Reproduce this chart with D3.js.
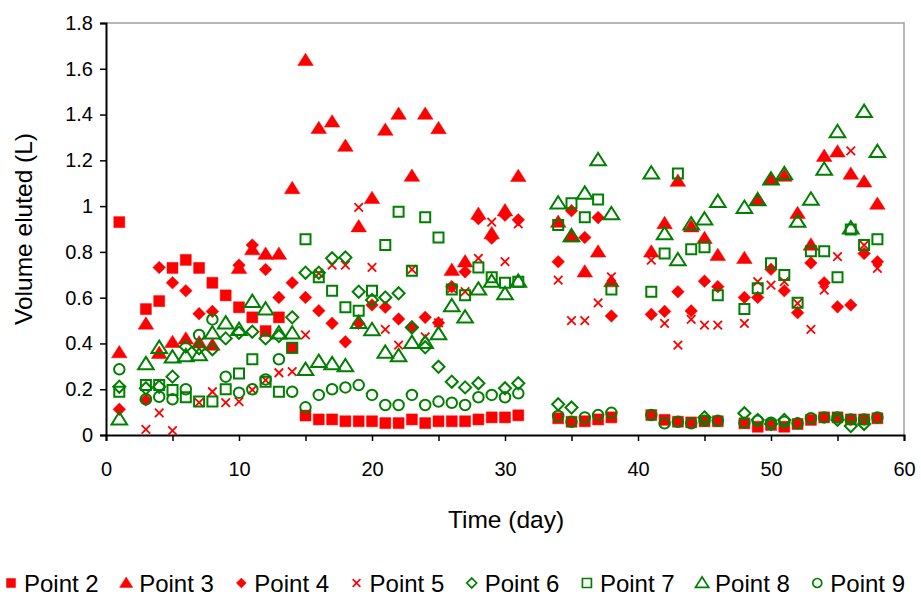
<!DOCTYPE html>
<html>
<head>
<meta charset="utf-8">
<script src="https://cdn.jsdelivr.net/npm/d3@7/dist/d3.min.js"></script>
<style>
  html, body { margin: 0; padding: 0; background: #fff; }
  svg { display: block; font-family: "Liberation Sans", Arial, sans-serif; }
</style>
</head>
<body>
<svg id="chart" width="921" height="601"></svg>
<script>
// Sampling days (days without measurements are skipped)
const days = [1,3,4,5,6,7,8,9,10,11,12,13,14,15,16,17,18,19,20,21,22,23,24,25,26,27,28,29,30,31,
              34,35,36,37,38,41,42,43,44,45,46,48,49,50,51,52,53,54,55,56,57,58];

// Eluted volume (L) per sampling point, aligned with `days` (null = no value)
const point2 = [0.93,0.55,0.585,0.73,0.765,0.73,0.665,0.61,0.558,0.514,0.454,0.514,0.38,0.085,0.068,0.068,0.06,0.06,0.06,0.052,0.052,0.068,0.052,0.06,0.06,0.06,0.068,0.077,0.077,0.086,
                0.073,0.058,0.06,0.068,0.077,0.087,0.066,0.058,0.055,0.06,0.06,0.051,0.036,0.044,0.036,0.048,0.066,0.077,0.077,0.068,0.068,0.073];
const point3 = [0.36,0.485,0.357,0.405,0.42,0.403,0.393,null,0.728,0.81,0.79,0.79,1.077,1.637,1.34,1.368,1.262,0.91,1.034,1.332,1.402,1.131,1.402,1.339,0.72,0.757,0.965,0.88,0.98,1.13,
                0.93,0.866,0.713,0.8,0.67,0.8,0.924,1.109,0.91,0.859,0.785,0.772,1.026,1.117,1.131,0.968,0.83,1.218,1.237,1.14,1.106,1.009];
const point4 = [0.112,0.153,0.732,0.665,0.63,0.53,0.54,null,0.742,0.83,0.723,0.601,0.665,0.601,0.543,0.488,0.407,0.488,0.568,0.558,0.507,0.473,0.514,0.49,0.648,0.713,0.945,0.86,0.96,0.94,
                0.757,0.98,0.863,0.95,0.52,0.527,0.54,0.626,0.542,0.672,0.648,0.601,0.601,0.724,0.63,0.534,0.752,0.665,0.56,0.568,0.793,0.757];
const point5 = [null,0.025,0.097,0.019,null,0.141,0.189,0.141,0.146,0.197,0.24,0.272,0.277,0.437,0.706,0.742,0.742,0.994,0.732,0.461,0.393,0.724,0.429,0.49,0.641,0.626,0.772,0.93,0.757,0.922,
                0.677,0.5,0.5,0.577,0.691,0.764,0.488,0.393,0.505,0.48,0.48,0.488,0.67,0.655,0.67,0.575,0.461,0.633,0.779,1.241,0.83,0.728];
const point6 = [0.211,0.204,0.211,0.255,0.386,0.379,0.375,0.422,0.447,0.451,0.422,0.432,0.514,0.709,0.709,0.772,0.776,0.626,0.59,0.601,0.619,0.47,0.383,0.298,0.233,0.208,0.226,null,0.204,0.226,
                0.134,0.12,null,null,null,null,null,null,null,0.077,null,0.095,0.066,0.048,0.066,null,null,null,0.066,0.039,0.048,null];
const point7 = [0.189,0.218,0.218,0.197,0.165,0.146,0.146,0.2,0.269,0.331,0.233,0.189,0.381,0.855,0.689,0.63,0.558,0.543,0.63,0.83,0.975,0.718,0.951,0.863,0.636,0.611,0.732,0.689,0.665,0.67,
                0.917,1.012,0.951,1.029,0.636,0.626,0.793,1.143,0.811,0.82,0.611,0.55,0.641,0.75,0.699,0.578,0.803,0.803,0.689,0.898,0.83,0.855];
const point8 = [0.069,0.31,0.381,0.339,0.345,0.349,0.444,0.488,0.46,0.582,0.549,0.444,0.444,0.285,0.32,0.31,0.301,0.49,0.459,0.36,0.345,0.403,0.403,0.441,0.563,0.514,0.636,0.67,0.616,0.67,
                1.012,0.869,1.055,1.201,0.965,1.143,0.878,0.764,0.921,0.942,1.019,0.993,1.026,1.117,1.14,0.932,1.029,1.16,1.324,0.903,1.412,1.237];
const point9 = [0.287,0.156,0.167,0.156,0.2,0.437,0.505,0.255,0.185,0.2,0.243,0.331,0.189,0.121,0.175,0.2,0.208,0.218,0.175,0.131,0.131,0.175,0.131,0.146,0.141,0.131,0.165,0.175,0.165,0.182,
                0.083,0.058,0.077,0.087,0.097,0.087,0.051,0.058,0.051,0.062,0.062,0.054,0.062,0.054,0.058,0.051,0.073,0.077,0.077,0.068,0.068,0.077];

const seriesNames = ["Point 2","Point 3","Point 4","Point 5","Point 6","Point 7","Point 8","Point 9"];
const seriesValues = [point2, point3, point4, point5, point6, point7, point8, point9];
const seriesShapes = ["square","triangle","diamond","cross","diamond","square","triangle","circle"];
const seriesFilled = [true, true, true, true, false, false, false, false];
const seriesColors = ["#ff0000","#ff0000","#ff0000","#ff0000","#008000","#008000","#008000","#008000"];

const xTicks = [0,5,10,15,20,25,30,35,40,45,50,55,60];
const xTickLabels = [0,10,20,30,40,50,60];
const yTicks = [0,0.2,0.4,0.6,0.8,1.0,1.2,1.4,1.6,1.8];

const svg = d3.select("#chart");
const plot = { left: 106, right: 904, top: 23, bottom: 435 };

const x = d3.scaleLinear().domain([0, 60]).range([plot.left, plot.right]);
const y = d3.scaleLinear().domain([0, 1.8]).range([plot.bottom, plot.top]);

// Marker path generator, centred at (0,0), s = nominal size
function markerPath(shape, s) {
  const h = s / 2;
  switch (shape) {
    case "square":
      return `M${-h},${-h}H${h}V${h}H${-h}Z`;
    case "triangle": {
      const w = s * 0.6, th = s * 0.95;
      return `M0,${-th * 0.58}L${w},${th * 0.42}L${-w},${th * 0.42}Z`;
    }
    case "diamond":
      return `M0,${-h * 1.1}L${h * 1.1},0L0,${h * 1.1}L${-h * 1.1},0Z`;
    case "cross": {
      const c = h * 0.85;
      return `M${-c},${-c}L${c},${c}M${c},${-c}L${-c},${c}`;
    }
    case "circle":
      return `M${h},0A${h},${h} 0 1,1 ${-h},0A${h},${h} 0 1,1 ${h},0Z`;
  }
}

// Plot area frame (top and right edges)
svg.append("path")
  .attr("d", `M${plot.left},${plot.top}H${plot.right}V${plot.bottom}`)
  .attr("fill", "none").attr("stroke", "#a0a0a0").attr("stroke-width", 1.5);

// Axes
const xAxis = d3.axisBottom(x).tickValues(xTicks).tickSizeOuter(0).tickSize(6)
  .tickFormat(d => xTickLabels.includes(d) ? d : "");
const gx = svg.append("g").attr("transform", `translate(0,${plot.bottom})`).call(xAxis);
gx.select(".domain").attr("stroke", "#000").attr("stroke-width", 2);
gx.selectAll(".tick line").attr("stroke", "#000").attr("stroke-width", 1.5);
gx.selectAll(".tick text").attr("font-size", 20).attr("fill", "#000")
  .attr("font-family", "Liberation Sans, Arial, sans-serif").attr("y", 27).attr("dy", "0.71em");

const yAxis = d3.axisLeft(y).tickValues(yTicks).tickSizeOuter(0).tickSize(6)
  .tickFormat(d => d3.format("~g")(+d.toFixed(1)));
const gy = svg.append("g").attr("transform", `translate(${plot.left},0)`).call(yAxis);
gy.select(".domain").attr("stroke", "#000").attr("stroke-width", 2);
gy.selectAll(".tick line").attr("stroke", "#000").attr("stroke-width", 1.5);
gy.selectAll(".tick text").attr("font-size", 20).attr("fill", "#000")
  .attr("font-family", "Liberation Sans, Arial, sans-serif").attr("x", -13);

// Axis titles
svg.append("text").attr("x", 506).attr("y", 528).attr("text-anchor", "middle")
  .attr("font-size", 24.5).attr("fill", "#000").text("Time (day)");
svg.append("text").attr("transform", `translate(32,229) rotate(-90)`).attr("text-anchor", "middle")
  .attr("font-size", 24.5).attr("fill", "#000").text("Volume eluted (L)");

// Markers
const markerSize = { square: 11, triangle: 13, diamond: 11.5, cross: 10, circle: 10.5 };
const openSize = { square: 10, triangle: 13, diamond: 11, cross: 10, circle: 10.5 };
seriesNames.forEach((name, i) => {
  const shape = seriesShapes[i], filled = seriesFilled[i], color = seriesColors[i];
  const pts = days.map((d, k) => ({ day: d, v: seriesValues[i][k] })).filter(p => p.v != null);
  const size = filled ? markerSize[shape] : openSize[shape];
  svg.append("g").selectAll("path").data(pts).join("path")
    .attr("transform", p => `translate(${x(p.day)},${y(p.v)})`)
    .attr("d", markerPath(shape, size))
    .attr("fill", (filled && shape !== "cross") ? color : "none")
    .attr("stroke", color)
    .attr("stroke-width", shape === "cross" ? 1.8 : (filled ? 0.5 : 2));
});

// Legend: one row spread across the full width
const legend = svg.append("g").attr("transform", "translate(0,583)");
const items = seriesNames.map((name, i) => {
  const item = legend.append("g");
  const shape = seriesShapes[i], filled = seriesFilled[i], color = seriesColors[i];
  item.append("path")
    .attr("transform", "translate(6,0)")
    .attr("d", markerPath(shape, shape === "triangle" ? 11 : 9))
    .attr("fill", (filled && shape !== "cross") ? color : "none")
    .attr("stroke", color)
    .attr("stroke-width", filled && shape !== "cross" ? 0.5 : 1.7);
  const t = item.append("text").attr("x", 19).attr("y", 0).attr("dy", "0.36em")
    .attr("font-size", 24).attr("fill", "#000").text(name);
  return { item, w: 19 + t.node().getComputedTextLength() };
});
const legendStart = 5, legendEnd = 905;
const gap = (legendEnd - legendStart - d3.sum(items, d => d.w)) / (items.length - 1);
let lx = legendStart;
items.forEach(d => { d.item.attr("transform", `translate(${lx},0)`); lx += d.w + gap; });
</script>
</body>
</html>
